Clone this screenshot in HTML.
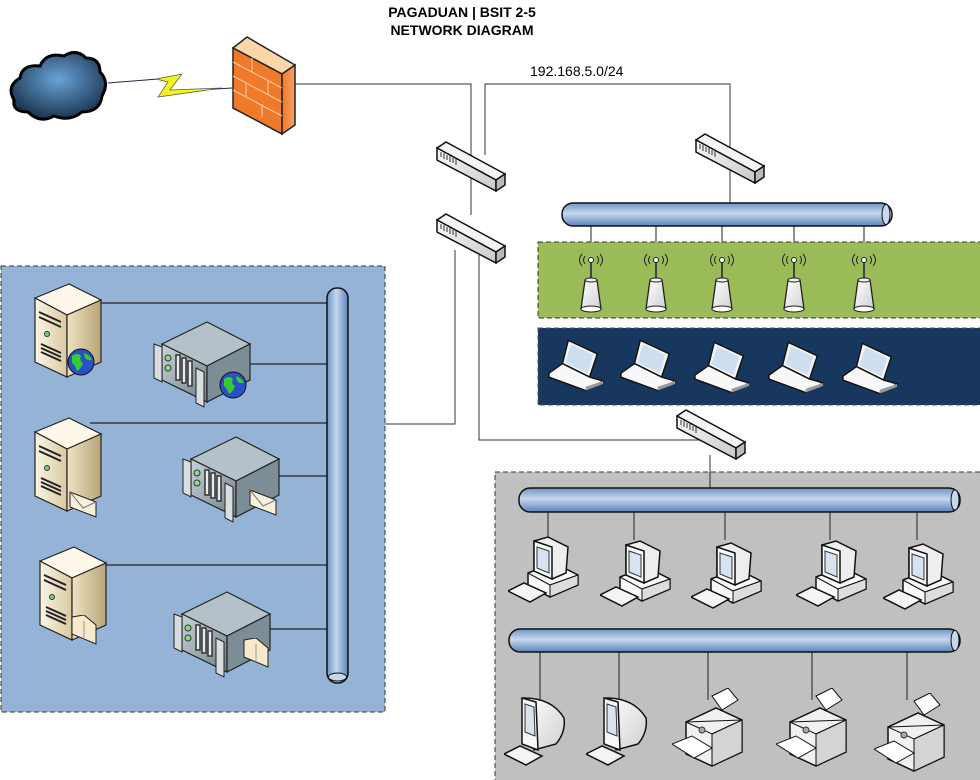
<!DOCTYPE html>
<html><head><meta charset="utf-8"><style>
html,body{margin:0;padding:0;background:#fff;width:980px;height:780px;overflow:hidden}
svg{display:block}
text{font-family:"Liberation Sans",Arial,sans-serif}
</style></head><body>
<svg width="980" height="780" viewBox="0 0 980 780" xmlns="http://www.w3.org/2000/svg">
<defs>
<linearGradient id="cylH" x1="0" y1="0" x2="0" y2="1"><stop offset="0" stop-color="#6d93c4"/><stop offset="0.45" stop-color="#c6d8ef"/><stop offset="1" stop-color="#5b82b8"/></linearGradient>
<linearGradient id="cylV" x1="0" y1="0" x2="1" y2="0"><stop offset="0" stop-color="#6d93c4"/><stop offset="0.45" stop-color="#c6d8ef"/><stop offset="1" stop-color="#5b82b8"/></linearGradient>
<linearGradient id="swg" x1="0" y1="0" x2="1" y2="1"><stop offset="0" stop-color="#fafafa"/><stop offset="1" stop-color="#c8c8c8"/></linearGradient>
<linearGradient id="beige" x1="0" y1="0" x2="1" y2="0"><stop offset="0" stop-color="#fbf5e4"/><stop offset="1" stop-color="#d9c9a0"/></linearGradient>
<linearGradient id="beige2" x1="0" y1="0" x2="1" y2="0"><stop offset="0" stop-color="#efe3c4"/><stop offset="1" stop-color="#b9a477"/></linearGradient>
<linearGradient id="rackg" x1="0" y1="0" x2="1" y2="1"><stop offset="0" stop-color="#c9d3d9"/><stop offset="1" stop-color="#6f7f88"/></linearGradient>
<linearGradient id="fire" x1="0" y1="0" x2="1" y2="0"><stop offset="0" stop-color="#f07a2a"/><stop offset="1" stop-color="#f9a060"/></linearGradient>
<radialGradient id="cloud" cx="0.5" cy="0.4" r="0.6"><stop offset="0" stop-color="#6aa3d8"/><stop offset="1" stop-color="#1a3550"/></radialGradient>
<linearGradient id="wh" x1="0" y1="0" x2="1" y2="1"><stop offset="0" stop-color="#ffffff"/><stop offset="1" stop-color="#d0d0d0"/></linearGradient>

<symbol id="switch" viewBox="0 0 70 52" width="70" height="52">
 <polygon points="1,8 10,2 69,34 60,40" fill="#f4f4f4" stroke="#111" stroke-width="1.5"/>
 <polygon points="1,8 60,40 60,51 1,20" fill="url(#swg)" stroke="#111" stroke-width="1.5"/>
 <polygon points="60,40 69,34 69,45 60,51" fill="#bbb" stroke="#111" stroke-width="1.5"/>
 <g stroke="#333" stroke-width="1"><line x1="5" y1="12" x2="5" y2="17"/><line x1="8" y1="13" x2="8" y2="19"/><line x1="11" y1="15" x2="11" y2="20"/><line x1="14" y1="16" x2="14" y2="22"/><line x1="17" y1="18" x2="17" y2="23"/><line x1="20" y1="19" x2="20" y2="25"/></g>
</symbol>

<symbol id="tower" viewBox="0 0 70 96" width="70" height="96">
 <polygon points="2,16 36,2 68,18 34,33" fill="#fdf8ea" stroke="#222" stroke-width="1.2"/>
 <polygon points="2,16 34,33 34,95 2,80" fill="url(#beige)" stroke="#222" stroke-width="1.2"/>
 <polygon points="34,33 68,18 68,80 34,95" fill="url(#beige2)" stroke="#222" stroke-width="1.2"/>
 <g stroke="#222" stroke-width="2"><line x1="6" y1="30" x2="28" y2="40"/><line x1="6" y1="35" x2="28" y2="45"/><line x1="8" y1="62" x2="28" y2="71"/><line x1="8" y1="66" x2="28" y2="75"/><line x1="8" y1="70" x2="28" y2="79"/></g>
 <circle cx="14" cy="52" r="2.5" fill="#7c7" stroke="#333"/>
</symbol>

<symbol id="rackS" viewBox="0 0 100 90" width="100" height="90">
 <polygon points="10,24 55,2 98,24 55,46" fill="#b5c1c8" stroke="#222" stroke-width="1.2"/>
 <polygon points="10,24 55,46 55,82 10,60" fill="url(#rackg)" stroke="#222" stroke-width="1.2"/>
 <polygon points="55,46 98,24 98,60 55,82" fill="#7d8d96" stroke="#222" stroke-width="1.2"/>
 <polygon points="2,24 10,27 10,62 2,58" fill="#d8dde0" stroke="#222"/>
 <polygon points="44,48 52,52 52,87 44,83" fill="#d8dde0" stroke="#222"/>
 <circle cx="16" cy="38" r="3" fill="#8d8" stroke="#333"/><circle cx="16" cy="48" r="3" fill="#8d8" stroke="#333"/>
 <g stroke="#333" stroke-width="1.5" fill="#e8ecee"><rect x="24" y="35" width="4" height="25"/><rect x="30" y="38" width="4" height="25"/><rect x="36" y="41" width="4" height="25"/></g>
</symbol>

<symbol id="globe" viewBox="0 0 30 30" width="30" height="30">
 <circle cx="15" cy="15" r="13" fill="#2a4fc8" stroke="#111"/>
 <path d="M6,9 Q12,5 15,9 Q13,14 17,16 Q15,22 11,24 Q9,18 6,16 Z" fill="#3c3"/>
 <path d="M18,6 Q24,8 26,13 Q22,14 19,11 Z" fill="#3c3"/>
</symbol>
<symbol id="mail" viewBox="0 0 30 30" width="30" height="30">
 <polygon points="2,4 28,14 28,29 2,19" fill="#f7efd9" stroke="#222"/>
 <polyline points="2,4 15,20 28,14" fill="none" stroke="#777"/>
</symbol>
<symbol id="folder" viewBox="0 0 30 30" width="30" height="30">
 <polygon points="2,2 14,0 26,10 26,29 2,19" fill="#f7e9cc" stroke="#222"/>
 <line x1="14" y1="6" x2="14" y2="24" stroke="#999"/>
</symbol>

<symbol id="ap" viewBox="0 0 40 70" width="40" height="70">
 <g fill="none" stroke="#222" stroke-width="1"><path d="M14,10 Q11,14 14,18"/><path d="M11,8 Q6,14 11,20"/><path d="M26,10 Q29,14 26,18"/><path d="M29,8 Q34,14 29,20"/></g>
 <circle cx="20" cy="14" r="2.5" fill="#fff" stroke="#222"/>
 <line x1="20" y1="16" x2="20" y2="33" stroke="#222" stroke-width="1.5"/>
 <polygon points="14,34 26,34 30,63 10,63" fill="url(#wh)" stroke="#222" stroke-width="1.3"/>
 <ellipse cx="20" cy="63" rx="10" ry="3" fill="#fff" stroke="#222"/>
 <ellipse cx="20" cy="34" rx="6" ry="2" fill="#eee" stroke="#222"/>
</symbol>

<symbol id="laptop" viewBox="0 0 60 55" width="60" height="55">
 <polygon points="22,2 52,16 44,40 16,26" fill="#f4f4f4" stroke="#111" stroke-width="1.5"/>
 <polygon points="25,6 48,17 42,36 19,25" fill="#cfdff2"/>
 <polygon points="2,36 16,26 44,40 58,44 40,54 2,40" fill="#f8f8f8" stroke="#111" stroke-width="1.5"/>
 <polygon points="40,50 58,44 58,47 40,54" fill="#999"/>
</symbol>

<symbol id="pc" viewBox="0 0 72 72" width="72" height="72">
 <polygon points="20,40 46,30 70,42 70,52 42,64 20,52" fill="#f8f8f8" stroke="#111" stroke-width="1.5"/>
 <line x1="20" y1="40" x2="42" y2="52" stroke="#111"/><line x1="42" y1="52" x2="70" y2="42" stroke="#111"/>
 <polygon points="42,52 42,64 70,52 70,42" fill="#ddd" stroke="#111"/>
 <polygon points="26,8 40,4 60,14 58,40 44,46 26,38" fill="#eee" stroke="#111" stroke-width="1.5"/>
 <polygon points="26,8 44,14 44,46 26,38" fill="#fafafa" stroke="#111" stroke-width="1.5"/>
 <polygon points="29,14 41,18 41,40 29,35" fill="#d7e3f1" stroke="#333"/>
 <polygon points="0,58 16,50 38,60 22,69" fill="#f4f4f4" stroke="#111" stroke-width="1.5"/>
</symbol>

<symbol id="crt" viewBox="0 0 72 76" width="72" height="76">
 <path d="M20,6 Q48,6 60,26 Q62,40 52,52 L30,58 Z" fill="url(#wh)" stroke="#111" stroke-width="1.5"/>
 <polygon points="18,6 32,10 34,58 18,52" fill="#f6f6f6" stroke="#111" stroke-width="1.5"/>
 <polygon points="21,12 30,15 31,44 21,40" fill="#d7e3f1" stroke="#333"/>
 <polygon points="0,62 16,54 38,64 22,73" fill="#f4f4f4" stroke="#111" stroke-width="1.5"/>
</symbol>

<symbol id="printer" viewBox="0 0 80 80" width="80" height="80">
 <polygon points="40,8 56,0 66,12 50,22" fill="#fff" stroke="#111"/>
 <polygon points="14,34 44,20 70,32 70,64 40,78 14,66" fill="#f0f0f0" stroke="#111" stroke-width="1.5"/>
 <polygon points="14,34 40,46 70,32" fill="none" stroke="#111"/>
 <polygon points="40,46 40,78 70,64 70,32" fill="#d4d4d4" stroke="#111"/>
 <circle cx="30" cy="42" r="3" fill="#aaa" stroke="#333"/>
 <polygon points="0,56 20,48 40,60 22,70" fill="#fff" stroke="#111"/>
</symbol>
</defs>

<!-- title -->
<text x="462" y="17" font-size="14" font-weight="bold" text-anchor="middle">PAGADUAN | BSIT 2-5</text>
<text x="462" y="35" font-size="14" font-weight="bold" text-anchor="middle">NETWORK DIAGRAM</text>
<text x="530" y="76" font-size="14">192.168.5.0/24</text>

<!-- cloud -->
<g stroke="#000" stroke-width="3" fill="url(#cloud)">
<path d="M14,100 Q6,86 20,78 Q22,64 40,66 Q46,52 64,56 Q76,48 86,58 Q100,58 100,72 Q110,82 102,96 Q100,112 82,112 Q70,122 54,116 Q40,124 28,112 Q12,112 14,100 Z"/>
</g>
<!-- lightning -->
<polyline points="108,83 158,79" fill="none" stroke="#1a2c44" stroke-width="1"/>
<polyline points="200,90 232,88" fill="none" stroke="#1a2c44" stroke-width="1"/>
<polygon points="156,79 182,74 170,90 222,88 158,97 168,82" fill="#f3f320" stroke="#555" stroke-width="0.7"/>

<!-- firewall -->
<polygon points="233,48 247,37 295,65 282,74" fill="#fbd6a8" stroke="#222" stroke-width="1.5"/>
<polygon points="233,48 282,74 282,134 233,108" fill="#f07a2a" stroke="#222" stroke-width="1.5"/>
<polygon points="282,74 295,65 295,125 282,134" fill="url(#fire)" stroke="#222" stroke-width="1.5"/>
<g stroke="#fcd0a8" stroke-width="1" fill="none">
<line x1="233" y1="62" x2="282" y2="88"/><line x1="233" y1="76" x2="282" y2="102"/><line x1="233" y1="90" x2="282" y2="116"/>
<line x1="252" y1="58" x2="252" y2="72"/><line x1="268" y1="80" x2="268" y2="94"/><line x1="246" y1="82" x2="246" y2="96"/><line x1="262" y1="104" x2="262" y2="118"/>
</g>

<!-- top lines -->
<g stroke="#333" stroke-width="1" fill="none">
<polyline points="295,84 471,84 471,215"/>
<polyline points="485,155 485,84 730,84 730,203"/>
<polyline points="455,250 455,424 348,424"/>
<polyline points="479,255 479,440 710,440"/>
<line x1="710" y1="455" x2="710" y2="488"/>
</g>

<!-- left box -->
<rect x="1" y="266" width="384" height="446" fill="#95b3d7" stroke="#333" stroke-dasharray="5,3"/>
<g stroke="#222" stroke-width="1.2">
<line x1="100" y1="303" x2="328" y2="303"/>
<line x1="250" y1="364" x2="328" y2="364"/>
<line x1="90" y1="423" x2="328" y2="423"/>
<line x1="278" y1="476" x2="328" y2="476"/>
<line x1="106" y1="565" x2="328" y2="565"/>
<line x1="270" y1="629" x2="328" y2="629"/>
</g>
<rect x="327" y="288" width="21" height="395" rx="10" fill="url(#cylV)" stroke="#111" stroke-width="1.5"/>
<ellipse cx="337.5" cy="677" rx="9" ry="4" fill="#c6d8ef" stroke="#111"/>

<use href="#tower" x="33" y="282"/><use href="#globe" x="66" y="347" width="30" height="30"/>
<use href="#rackS" x="152" y="320"/><use href="#globe" x="218" y="370" width="30" height="30"/>
<use href="#tower" x="33" y="416"/><use href="#mail" x="68" y="488"/>
<use href="#rackS" x="181" y="435"/><use href="#mail" x="248" y="486"/>
<use href="#tower" x="38" y="545"/><use href="#folder" x="70" y="615"/>
<use href="#rackS" x="172" y="590"/><use href="#folder" x="242" y="638"/>

<!-- switches -->
<use href="#switch" x="436" y="140"/>
<use href="#switch" x="436" y="212"/>
<use href="#switch" x="695" y="132"/>
<use href="#switch" x="676" y="408"/>

<!-- wireless bus -->
<g stroke="#222" stroke-width="1">
<line x1="591" y1="226" x2="591" y2="256"/><line x1="656" y1="226" x2="656" y2="256"/><line x1="722" y1="226" x2="722" y2="256"/><line x1="794" y1="226" x2="794" y2="256"/><line x1="864" y1="226" x2="864" y2="256"/>
</g>
<rect x="538" y="242" width="445" height="76" fill="#9bbb59" stroke="#333" stroke-dasharray="5,3"/>
<rect x="562" y="203" width="330" height="23" rx="11" fill="url(#cylH)" stroke="#111" stroke-width="1.5"/>
<ellipse cx="886" cy="214.5" rx="4" ry="10" fill="#c6d8ef" stroke="#111"/>
<use href="#ap" x="571" y="246"/><use href="#ap" x="636" y="246"/><use href="#ap" x="702" y="246"/><use href="#ap" x="774" y="246"/><use href="#ap" x="844" y="246"/>

<rect x="538" y="328" width="445" height="77" fill="#17375e" stroke="#555" stroke-dasharray="5,3"/>
<use href="#laptop" x="547" y="338" width="58" height="54"/><use href="#laptop" x="619" y="338" width="58" height="54"/><use href="#laptop" x="693" y="340" width="58" height="54"/><use href="#laptop" x="767" y="340" width="58" height="54"/><use href="#laptop" x="841" y="341" width="58" height="54"/>

<!-- bottom box -->
<rect x="495" y="472" width="490" height="310" fill="#c0c0c0" stroke="#333" stroke-dasharray="5,3"/>
<line x1="710" y1="472" x2="710" y2="488" stroke="#222"/>
<g stroke="#222" stroke-width="1">
<line x1="548" y1="512" x2="548" y2="540"/><line x1="634" y1="512" x2="634" y2="540"/><line x1="725" y1="512" x2="725" y2="540"/><line x1="830" y1="512" x2="830" y2="540"/><line x1="917" y1="512" x2="917" y2="540"/>
<line x1="540" y1="652" x2="540" y2="700"/><line x1="619" y1="652" x2="619" y2="700"/><line x1="708" y1="652" x2="708" y2="700"/><line x1="812" y1="652" x2="812" y2="700"/><line x1="907" y1="652" x2="907" y2="700"/>
</g>
<rect x="519" y="488" width="441" height="24" rx="11" fill="url(#cylH)" stroke="#111" stroke-width="1.5"/>
<ellipse cx="955" cy="500" rx="4" ry="10" fill="#c6d8ef" stroke="#111"/>
<rect x="509" y="629" width="451" height="23" rx="11" fill="url(#cylH)" stroke="#111" stroke-width="1.5"/>
<ellipse cx="955" cy="640.5" rx="4" ry="10" fill="#c6d8ef" stroke="#111"/>

<use href="#pc" x="508" y="533"/><use href="#pc" x="600" y="537"/><use href="#pc" x="691" y="539"/><use href="#pc" x="796" y="537"/><use href="#pc" x="883" y="540"/>
<use href="#crt" x="504" y="692"/><use href="#crt" x="586" y="692"/><use href="#printer" x="672" y="688"/><use href="#printer" x="776" y="688"/><use href="#printer" x="874" y="693"/>
</svg>
</body></html>
